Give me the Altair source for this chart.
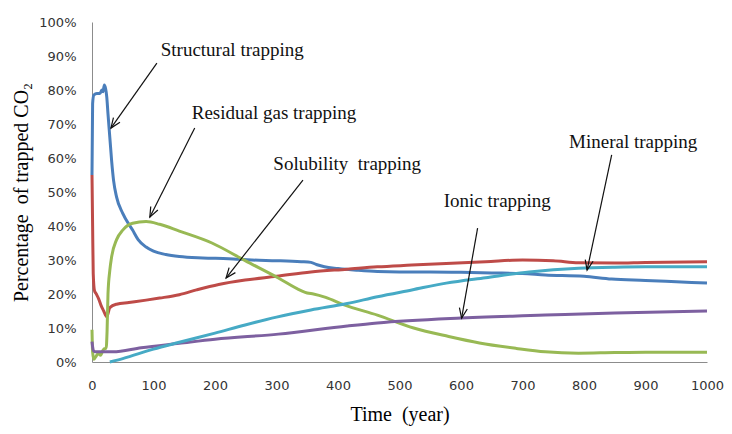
import math
import altair as alt
import pandas as pd

# ---------------- data (years, percent) ----------------
names = ["Structural trapping", "Residual gas trapping", "Solubility trapping",
         "Ionic trapping", "Mineral trapping"]
colors = ["#4A7EBB", "#BE4B48", "#98B954", "#7D60A0", "#46AAC5"]

structural_t = [0, 1, 3, 8, 13, 16, 18, 20, 22, 24, 26, 29, 32, 35, 40, 50, 66, 75, 88, 100,
                120, 142, 180, 222, 260, 300, 340, 356, 366, 378, 400, 430, 464, 500, 550,
                600, 650, 700, 737, 800, 845, 900, 950, 1000]
structural_v = [55, 76, 78.5, 79, 79, 80, 79.5, 81.5, 80.5, 78, 73, 66, 59, 53.5, 48.5, 43.7,
                38.8, 36, 33.8, 32.6, 31.6, 31, 30.6, 30.4, 30, 29.8, 29.5, 29.3, 28.6, 28,
                27.5, 27, 26.6, 26.5, 26.5, 26.4, 26.2, 26, 25.6, 25.2, 24.4, 24, 23.6, 23.2]

residual_t = [0, 1, 2, 4, 7, 11, 15, 19, 24, 29, 40, 60, 88, 110, 142, 170, 206, 249, 300, 356,
              415, 464, 520, 576, 640, 700, 750, 791, 850, 900, 1000]
residual_v = [55, 40, 26, 21, 20, 18.5, 16.5, 15, 13.3, 16, 17, 17.5, 18.2, 18.8, 19.8, 21.2,
              22.8, 24.1, 25.2, 26.5, 27.3, 28, 28.5, 29, 29.5, 30, 29.8, 29.2, 29.1, 29.3,
              29.5]

solubility_t = [0, 1, 3, 6, 10, 14, 18, 21, 23, 24.5, 26, 29, 32, 40, 50, 66, 88, 110, 142, 195,
                249, 303, 340, 350, 360, 380, 410, 464, 523, 580, 630, 690, 737, 791, 850, 900,
                1000]
solubility_v = [9.5, 3, 0.8, 1.5, 2.5, 2, 3.5, 4, 4, 9, 20, 27, 31, 36, 38.8, 40.8, 41.3, 40.5,
                38.5, 35, 29.8, 24.7, 21, 20.3, 20, 19, 16.8, 13.8, 10, 7.5, 5.6, 4, 3, 2.6,
                2.8, 2.9, 2.9]

ionic_t = [0, 1, 3, 6, 12, 20, 34, 80, 142, 200, 303, 415, 464, 593, 700, 737, 850, 1000]
ionic_v = [6, 4.5, 3.2, 3, 3, 3, 3, 4.2, 5.5, 6.7, 8.2, 10.6, 11.5, 12.9, 13.6, 13.8, 14.4, 15]

mineral_t = [29, 50, 100, 142, 200, 249, 300, 356, 415, 464, 520, 576, 640, 711, 791, 850, 900,
             1000]
mineral_v = [0, 1, 3.8, 5.8, 8.5, 10.9, 13.2, 15.3, 17.2, 19.2, 21.2, 23.2, 24.8, 26.5, 27.6,
             27.9, 28, 28]

x_ticks = list(range(0, 1001, 100))
y_ticks = list(range(0, 101, 10))

# annotations: label text, label position, arrow start, arrow tip (data units)
ann_text = ["Structural trapping", "Residual gas trapping", "Solubility\u00a0 trapping",
            "Ionic trapping", "Mineral trapping"]
ann_t = [228, 296, 415, 659, 880]
ann_v = [91.8, 73.2, 58.2, 47.4, 64.7]
arrow_t0 = [105.5, 167, 343, 627, 845]
arrow_v0 = [87.9, 68.8, 53.5, 39.4, 60.9]
arrow_t1 = [30.8, 94, 218, 601, 805]
arrow_v1 = [68.8, 42.6, 24.7, 12.9, 27]

# ---------------- layout ----------------
W, H = 615, 340
px_per_t = W / 1000.0
px_per_v = H / 100.0

series = [structural_t, residual_t, solubility_t, ionic_t, mineral_t]
values = [structural_v, residual_v, solubility_v, ionic_v, mineral_v]
rows = []
for k, (name, ts, vs) in enumerate(zip(names, series, values)):
    for t, v in zip(ts, vs):
        rows.append({"series": name, "k": k, "t": t, "v": v})
df = pd.DataFrame(rows)

arr_rows = []
for i in range(len(ann_text)):
    dx = (arrow_t1[i] - arrow_t0[i]) * px_per_t
    dy = -(arrow_v1[i] - arrow_v0[i]) * px_per_v
    ang = math.degrees(math.atan2(-dx, dy)) % 360
    arr_rows.append({"label": ann_text[i], "lt": ann_t[i], "lv": ann_v[i],
                     "t0": arrow_t0[i], "v0": arrow_v0[i],
                     "t1": arrow_t1[i], "v1": arrow_v1[i], "ang": ang})
adf = pd.DataFrame(arr_rows)

xs = alt.Scale(domain=[0, 1000], nice=False)
ys = alt.Scale(domain=[0, 100], nice=False)

x_axis = alt.Axis(values=x_ticks, title="Time\u00a0 (year)", grid=False, ticks=False,
                  domainColor="#8C8C8C", labelFont="DejaVu Sans", labelFontSize=13,
                  labelColor="#333333", labelPadding=17, labelOverlap=False,
                  labelFlush=False, labelExpr="datum.value",
                  titleFont="Liberation Serif",
                  titleFontSize=20, titleFontWeight="normal", titleColor="#000000",
                  titlePadding=12)
y_axis = alt.Axis(values=y_ticks, title="Percentage\u00a0 of trapped CO\u2082", grid=False,
                  ticks=False, domainColor="#8C8C8C", labelFont="DejaVu Sans",
                  labelFontSize=13, labelColor="#333333", labelPadding=16,
                  labelOverlap=False, labelFlush=False, labelExpr="datum.value + '%'",
                  titleFont="Liberation Serif",
                  titleFontSize=20, titleFontWeight="normal", titleColor="#000000",
                  titlePadding=7)

lines = alt.Chart(df).mark_line(strokeWidth=3, interpolate="monotone").encode(
    x=alt.X("t:Q", scale=xs, axis=x_axis),
    y=alt.Y("v:Q", scale=ys, axis=y_axis),
    color=alt.Color("series:N", scale=alt.Scale(domain=names, range=colors), legend=None),
    detail="k:N",
)

rules = alt.Chart(adf).mark_rule(color="#111111", strokeWidth=1.2).encode(
    x=alt.X("t0:Q", axis=None), y=alt.Y("v0:Q", axis=None), x2="t1:Q", y2="v1:Q")

heads = alt.Chart(adf).mark_point(
    shape="M -0.4 -1 L 0 0 L 0.4 -1", size=400, filled=False, color="#111111",
    strokeWidth=1.2, opacity=1).encode(
    x=alt.X("t1:Q", axis=None), y=alt.Y("v1:Q", axis=None),
    angle=alt.Angle("ang:Q", scale=None))

labels = alt.Chart(adf).mark_text(font="Liberation Serif", fontSize=19, color="#111111",
                                  align="center", baseline="middle").encode(
    x=alt.X("lt:Q", axis=None), y=alt.Y("lv:Q", axis=None), text="label:N")

chart = alt.layer(lines, rules, heads, labels).resolve_axis(
    x="independent", y="independent"
).properties(
    width=W, height=H,
    autosize=alt.AutoSizeParams(type="none"),
    padding={"left": 84, "top": 14, "right": 17, "bottom": 64},
).configure(
    background="white",
    view=alt.ViewConfig(stroke=None),
    axis=alt.AxisConfig(labelOverlap=False),
)

chart.save("out.html", embed_options={"renderer": "svg", "actions": False})
